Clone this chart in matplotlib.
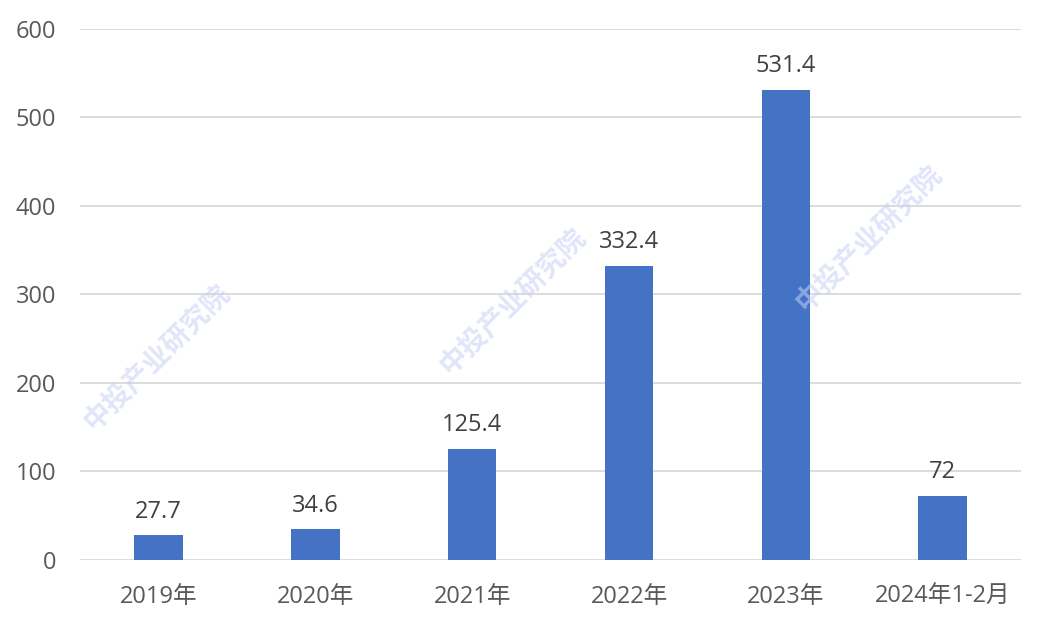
import numpy as np
import matplotlib
matplotlib.use('Agg')
import matplotlib.pyplot as plt

plt.rcParams['font.family'] = ['Open Sans', 'Noto Sans CJK SC', 'DejaVu Sans']

# ── Data ──────────────────────────────────────────────────────────────────────
categories = ['2019年', '2020年', '2021年', '2022年', '2023年', '2024年1-2月']
values = [27.7, 34.6, 125.4, 332.4, 531.4, 72]
value_labels = ['27.7', '34.6', '125.4', '332.4', '531.4', '72']
yticks = [0, 100, 200, 300, 400, 500, 600]

# ── Figure ────────────────────────────────────────────────────────────────────
fig = plt.figure(figsize=(10.47, 6.27), dpi=100)
ax = fig.add_axes([0.0764, 0.1069, 0.899, 0.847])

x = np.arange(len(categories))
ax.bar(x, values, width=0.31, color='#4472C4', zorder=3)

for xi, v, lab in zip(x, values, value_labels):
    ax.annotate(lab, (xi, v), xytext=(0, 8.5), textcoords='offset points',
                ha='center', va='bottom', fontsize=17, color='#404040', zorder=4)

ax.set_xlim(-0.5, len(categories) - 0.5)
ax.set_ylim(0, 600)
ax.set_yticks(yticks)
ax.set_xticks(x)
ax.set_xticklabels(categories)
ax.tick_params(axis='both', length=0, labelsize=17, labelcolor='#595959')
ax.tick_params(axis='y', pad=17)
ax.tick_params(axis='x', pad=18)
ax.grid(axis='y', color='#d9d9d9', linewidth=1.3, zorder=0)
for s in ax.spines.values():
    s.set_visible(False)

# faint watermarks
for (fx, fy) in [(0.15, 0.43), (0.49, 0.52), (0.83, 0.62)]:
    fig.text(fx, fy, '中投产业研究院', rotation=45, fontsize=20, color='#c8d0f5',
             alpha=0.55, ha='center', va='center', fontweight='bold', zorder=0)

fig.savefig('out.png', dpi=100)
